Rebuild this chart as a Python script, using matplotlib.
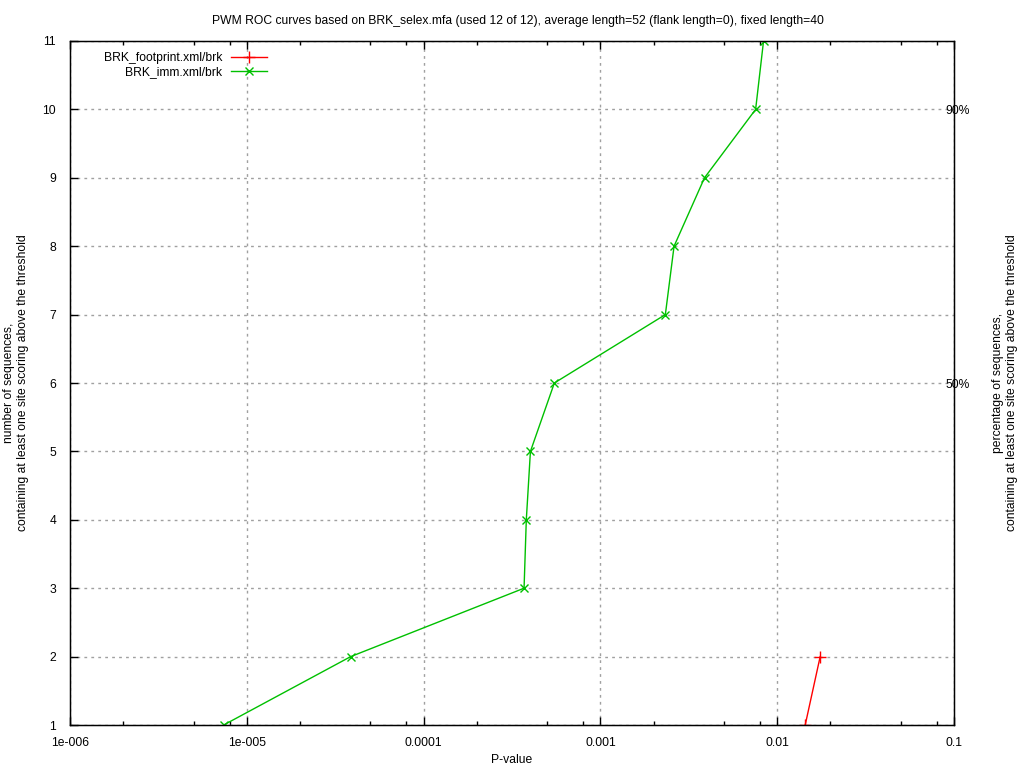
import matplotlib
matplotlib.use("Agg")
import matplotlib.pyplot as plt
from matplotlib.ticker import FixedLocator, FixedFormatter, NullFormatter

plt.rcParams["font.family"] = ["Liberation Sans", "DejaVu Sans"]

# data
footprint_p = [0.0144, 0.0175]
footprint_n = [1, 2]

imm_p = [7.4e-6, 3.87e-5, 3.70e-4, 3.81e-4, 4.02e-4, 5.49e-4,
         2.33e-3, 2.61e-3, 3.88e-3, 7.55e-3, 8.37e-3]
imm_n = [1, 2, 3, 4, 5, 6, 7, 8, 9, 10, 11]

x_ticks = [1e-6, 1e-5, 1e-4, 1e-3, 1e-2, 1e-1]
x_tick_labels = ["1e-006", "1e-005", "0.0001", "0.001", "0.01", "0.1"]
y_ticks = list(range(1, 12))
pct_ticks = [6, 10]
pct_labels = ["50%", "90%"]

title = ("PWM ROC curves based on BRK_selex.mfa (used 12 of 12), "
         "average length=52 (flank length=0), fixed length=40")

FS = 8.7

fig = plt.figure(figsize=(10.24, 7.68), dpi=100)
ax = fig.add_axes([70 / 1024, 43 / 768, 884 / 1024, 684 / 768])

ax.plot(footprint_p, footprint_n, color="#ff0000", lw=1, marker="+", ms=8,
        mew=1, label="BRK_footprint.xml/brk")
ax.plot(imm_p, imm_n, color="#00c000", lw=1, marker="x", ms=6,
        mew=1, label="BRK_imm.xml/brk")

ax.set_xscale("log")
ax.set_xlim(1e-6, 0.1)
ax.set_ylim(1, 11)

ax.xaxis.set_major_locator(FixedLocator(x_ticks))
ax.xaxis.set_major_formatter(FixedFormatter(x_tick_labels))
minor = [m * d for d in [1e-6, 1e-5, 1e-4, 1e-3, 1e-2] for m in (2, 5, 8)]
ax.xaxis.set_minor_locator(FixedLocator(minor))
ax.xaxis.set_minor_formatter(NullFormatter())
ax.set_yticks(y_ticks)

ax.tick_params(axis="both", which="major", direction="in", length=6,
               width=1, labelsize=FS, top=True, right=True)
ax.tick_params(axis="x", which="major", pad=9)
ax.tick_params(axis="y", which="major", pad=10)
ax.tick_params(axis="x", which="minor", direction="in", length=3,
               width=1, top=True)

ax.grid(True, which="major", color="#a0a0a0", ls=(0, (2, 3)), lw=1)

for s in ax.spines.values():
    s.set_linewidth(1)

ax2 = ax.twinx()
ax2.set_ylim(1, 11)
ax2.set_yticks(pct_ticks)
ax2.set_yticklabels(pct_labels)
ax2.tick_params(axis="y", direction="in", length=0, labelsize=FS, pad=-6)

ax.set_title(title, fontsize=FS, pad=12, x=0.507)
ax.set_xlabel("P-value", fontsize=FS, labelpad=3)
ax.set_ylabel("number of sequences,\ncontaining at least one site scoring above the threshold",
              fontsize=FS, labelpad=10)
ax2.set_ylabel("percentage of sequences,\ncontaining at least one site scoring above the threshold",
               fontsize=FS, labelpad=16)

ax.legend(loc="upper left", bbox_to_anchor=(0.026, 1.0), frameon=False,
          markerfirst=False, fontsize=FS, handlelength=3.0, handletextpad=0.7,
          labelspacing=0.2, borderaxespad=0.5)

fig.savefig("out.png", dpi=100)
